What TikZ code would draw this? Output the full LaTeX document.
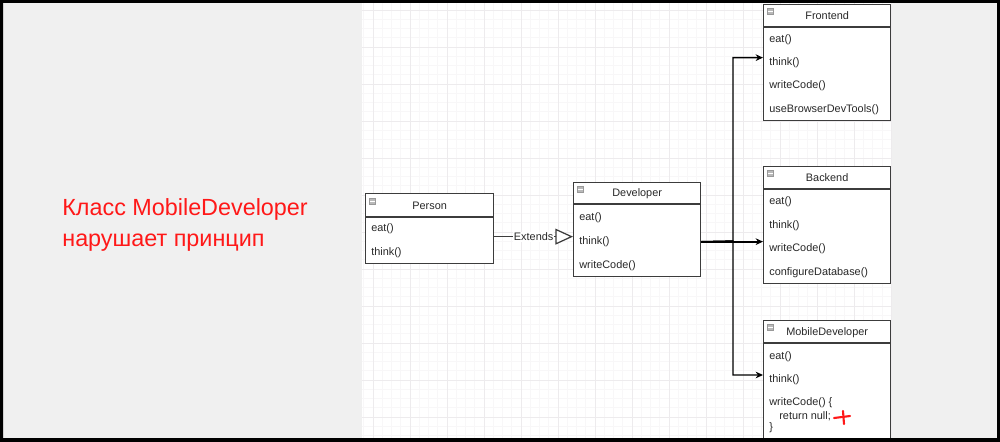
\documentclass[tikz,border=0pt]{standalone}
\usepackage{fontspec}
\setmainfont{Liberation Sans}
\usetikzlibrary{arrows.meta,positioning,calc}
\definecolor{canvasgray}{RGB}{240,240,240}
\definecolor{gridminor}{RGB}{248,247,248}
\definecolor{gridmajor}{RGB}{237,235,237}
\definecolor{umlline}{RGB}{60,60,60}
\definecolor{umltext}{RGB}{40,40,40}
\definecolor{warnred}{RGB}{255,24,24}

\tikzset{
  classbox/.style={draw=umlline, line width=0.75pt, fill=white, inner sep=0pt, anchor=north west},
  member/.style={anchor=west, inner sep=0pt, text=umltext, font=\fontsize{6.2}{7}\selectfont},
  classtitle/.style={inner sep=0pt, text=umltext, font=\fontsize{6.2}{7}\selectfont},
  minusicon/.style={draw=gray!80, fill=gray!55, line width=0.3pt, minimum size=0.12cm, inner sep=0pt,
    path picture={\draw[white, line width=0.5pt] (path picture bounding box.west) -- (path picture bounding box.east);}},
  extends/.style={draw=umlline, line width=0.7pt, -{Triangle[open, length=10pt, width=9pt, fill=white]}},
  extlabel/.style={fill=white, inner sep=0.6pt, text=umltext, font=\fontsize{6.2}{7}\selectfont},
  fanout/.style={draw=black, line width=0.75pt, -{Stealth[length=4.2pt, width=3.8pt]}}
}

\begin{document}
\begin{tikzpicture}[x=0.02cm, y=-0.02cm]
            \useasboundingbox (0,0) rectangle (1000,442);
            \fill[canvasgray] (0,0) rectangle (1000,442);

            % drawing canvas with grid
            \begin{scope}
              \clip (362,3) rectangle (892,438);
              \fill[white] (362,3) rectangle (892,438);
              \foreach \gx in {363.75,373,...,892} \draw[gridminor, line width=0.3pt] (\gx,3) -- (\gx,438);
              \foreach \gy in {0.75,10,...,438} \draw[gridminor, line width=0.3pt] (362,\gy) -- (892,\gy);
              \foreach \gx in {373,410,...,892} \draw[gridmajor, line width=0.4pt] (\gx,3) -- (\gx,438);
              \foreach \gy in {10,47,...,438} \draw[gridmajor, line width=0.4pt] (362,\gy) -- (892,\gy);
            \end{scope}

            % Person
            \node[classbox, minimum width=2.56cm, minimum height=1.40cm] (person) at (365,193) {};
            \draw[umlline, line width=0.75pt] ($(person.north west)+(0,24)$) -- ($(person.north east)+(0,24)$);
            \node[minusicon] (person-icon) at ($(person.north west)+(7,8)$) {};
            \node[classtitle] (person-title) at ($(person.north)+(0,13)$) {Person};
            \node[member] (person-eat)   at (371,229) {eat()};
            \node[member] (person-think) at (371,253) {think()};

            % Developer
            \node[classbox, minimum width=2.54cm, minimum height=1.88cm] (developer) at (573,182) {};
            \draw[umlline, line width=0.75pt] ($(developer.north west)+(0,22)$) -- ($(developer.north east)+(0,22)$);
            \node[minusicon] (developer-icon) at ($(developer.north west)+(7,7)$) {};
            \node[classtitle] (developer-title) at ($(developer.north)+(0,12)$) {Developer};
            \node[member] (developer-eat)   at (579,218) {eat()};
            \node[member] (developer-think) at (579,242) {think()};
            \node[member] (developer-code)  at (579,266) {writeCode()};

            % Frontend
            \node[classbox, minimum width=2.54cm, minimum height=2.32cm] (frontend) at (763,4) {};
            \draw[umlline, line width=0.75pt] ($(frontend.north west)+(0,23)$) -- ($(frontend.north east)+(0,23)$);
            \node[minusicon] (frontend-icon) at ($(frontend.north west)+(7,7)$) {};
            \node[classtitle] (frontend-title) at ($(frontend.north)+(0,12)$) {Frontend};
            \node[member] (frontend-eat)   at (769,40)  {eat()};
            \node[member] (frontend-think) at (769,63)  {think()};
            \node[member] (frontend-code)  at (769,86)  {writeCode()};
            \node[member] (frontend-tools) at (769,110) {useBrowserDevTools()};

            % Backend
            \node[classbox, minimum width=2.54cm, minimum height=2.34cm] (backend) at (763,166) {};
            \draw[umlline, line width=0.75pt] ($(backend.north west)+(0,23)$) -- ($(backend.north east)+(0,23)$);
            \node[minusicon] (backend-icon) at ($(backend.north west)+(7,7)$) {};
            \node[classtitle] (backend-title) at ($(backend.north)+(0,12)$) {Backend};
            \node[member] (backend-eat)   at (769,202) {eat()};
            \node[member] (backend-think) at (769,226) {think()};
            \node[member] (backend-code)  at (769,249) {writeCode()};
            \node[member] (backend-db)    at (769,273) {configureDatabase()};

            % MobileDeveloper
            \node[classbox, minimum width=2.54cm, minimum height=2.50cm] (mobile) at (763,320) {};
            \draw[umlline, line width=0.75pt] ($(mobile.north west)+(0,23)$) -- ($(mobile.north east)+(0,23)$);
            \node[minusicon] (mobile-icon) at ($(mobile.north west)+(7,7)$) {};
            \node[classtitle] (mobile-title) at ($(mobile.north)+(0,13)$) {MobileDeveloper};
            \node[member] (mobile-eat)    at (769,357) {eat()};
            \node[member] (mobile-think)  at (769,380) {think()};
            \node[member] (mobile-code)   at (769,403) {writeCode() \{};
            \node[member] (mobile-return) at (779,416) {return null;};
            \node[member] (mobile-close)  at (769,428) {\}};
            \draw[warnred, line width=1.2pt, line cap=round] (834,418) -- (850,416);
            \draw[warnred, line width=1.2pt, line cap=round] (843,411) -- (844,424);

            % connectors
            \coordinate (person-out) at ($(person.east)+(0,8)$);
            \coordinate (developer-in) at (person-out -| developer.west);
            \draw[extends] (person-out) -- node[extlabel] (ext-label) {Extends} (developer-in);

            \coordinate (developer-out) at ($(developer.east)+(0,12)$);
            \coordinate (fork) at (733,241);
            \coordinate (frontend-in) at ($(frontend.west)+(0,-5)$);
            \coordinate (mobile-in) at (763,375);
            \draw[fanout] (developer-out) -- (fork) |- (frontend-in);
            \draw[fanout, line width=1.1pt] (developer-out) -- (developer-out -| backend.west);
            \draw[fanout] (developer-out) -- (fork) |- (mobile-in);

            % warning text
            \node[anchor=west, align=left, inner sep=0pt, text=warnred, font=\fontsize{13.3}{17.8}\selectfont]
              (note) at (62,225) {Класс MobileDeveloper\\нарушает принцип};

            % screen frame
            \fill[black, even odd rule] (0,0) rectangle (1000,442) (3,3) rectangle (997,438);
        \end{tikzpicture}
\end{document}
